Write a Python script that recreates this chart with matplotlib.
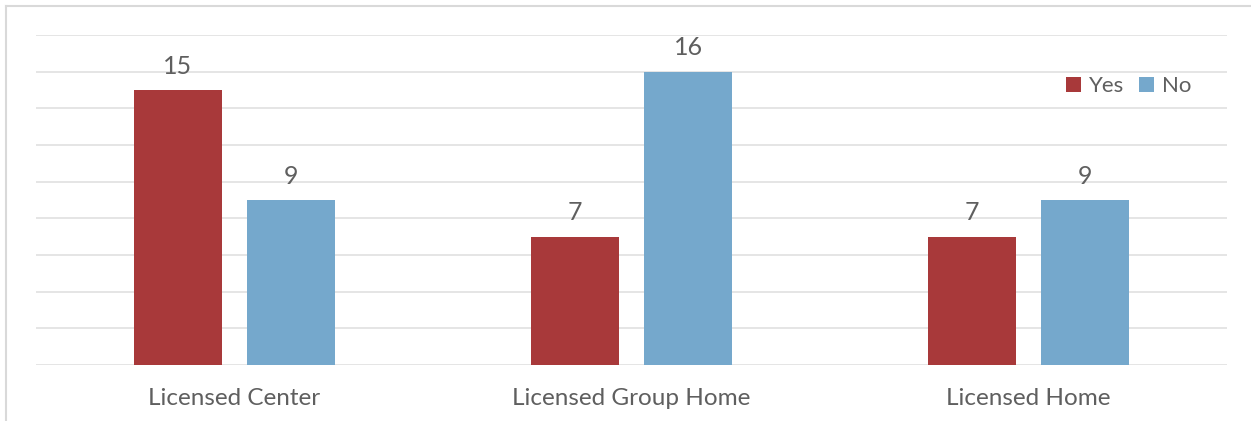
import matplotlib
matplotlib.use("Agg")
import matplotlib.pyplot as plt
from matplotlib.lines import Line2D
import numpy as np

categories = ["Licensed Center", "Licensed Group Home", "Licensed Home"]
yes_vals = [15, 7, 7]
no_vals = [9, 16, 9]
series_names = ["Yes", "No"]
colors = ["#A8393A", "#75A8CC"]
text_color = "#5F5F5F"

plt.rcParams['font.family'] = ['Lato', 'DejaVu Sans']

W, H = 1251, 421
fig = plt.figure(figsize=(W/100, H/100), dpi=100)
ax = fig.add_axes([36/W, 1-365/H, (1227-36)/W, (365-35)/H])

x = np.arange(len(categories))
bw = 0.222
off = 0.143
b1 = ax.bar(x - off, yes_vals, bw, color=colors[0], label=series_names[0], zorder=3)
b2 = ax.bar(x + off, no_vals, bw, color=colors[1], label=series_names[1], zorder=3)

for bars, vals in ((b1, yes_vals), (b2, no_vals)):
    for r, v in zip(bars, vals):
        ax.annotate(str(v), (r.get_x() + r.get_width()/2, v), xytext=(0, 9),
                    textcoords="offset points", ha="center", va="bottom",
                    fontsize=18, color=text_color)

ax.set_xlim(-0.5, 2.5)
ax.set_ylim(0, 18)
ax.set_yticks(np.arange(0, 19, 2))
ax.yaxis.grid(True, color="#E3E3E3", linewidth=1.3, zorder=0)
ax.tick_params(axis='y', left=False, labelleft=False)
ax.tick_params(axis='x', bottom=False, labelsize=17.5, labelcolor=text_color, pad=13)
ax.set_xticks(x)
ax.set_xticklabels(categories)
for s in ax.spines.values():
    s.set_visible(False)

leg = ax.legend(loc="upper right", bbox_to_anchor=(1191/W, 1-76/H), bbox_transform=fig.transFigure,
                ncol=2, frameon=False, fontsize=16, handlelength=0.65, handleheight=0.65,
                handletextpad=0.35, columnspacing=0.7, borderaxespad=0, borderpad=0)
for t in leg.get_texts():
    t.set_color(text_color)

# outer frame (top and left edges visible)
fig.add_artist(Line2D([6/W, 6/W], [0, 1-6/H], transform=fig.transFigure, color="#D9D9D9", linewidth=1.5))
fig.add_artist(Line2D([6/W, 1], [1-6/H, 1-6/H], transform=fig.transFigure, color="#D9D9D9", linewidth=1.5))

fig.savefig("out.png", dpi=100)
